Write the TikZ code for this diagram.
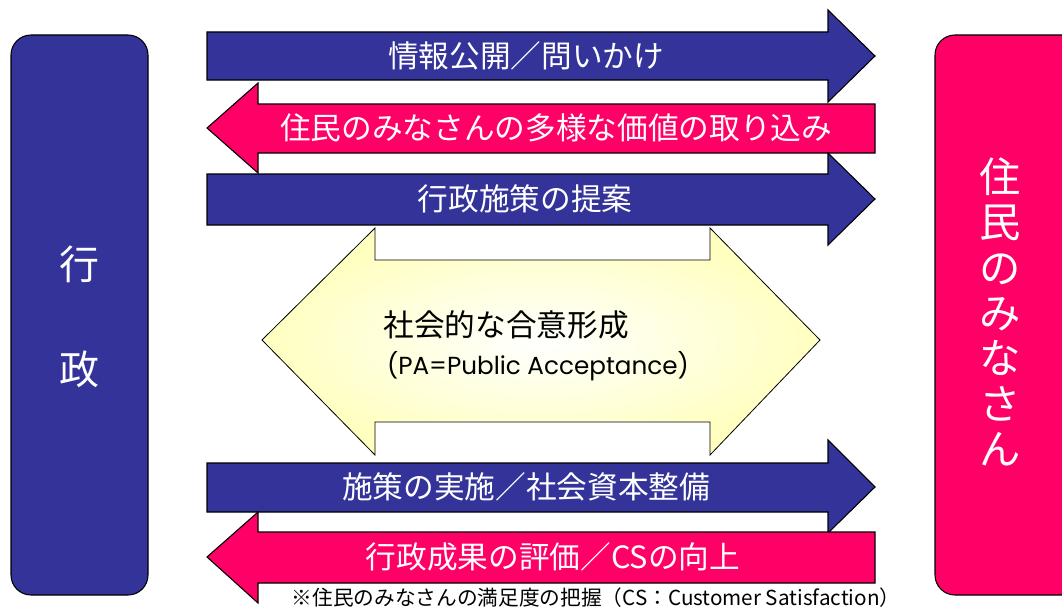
\documentclass[tikz,border=0pt]{standalone}
\usepackage{fontspec}
\setmainfont{Noto Sans CJK JP}
\newfontfamily\geofont{Poppins}
\definecolor{gblue}{HTML}{333399}
\definecolor{gpink}{HTML}{FF0066}
\definecolor{cream}{HTML}{FFFFC0}
\begin{document}
\begin{tikzpicture}[x=0.75pt,y=-0.75pt,
  blk/.style={draw=black, line width=0.8pt, line join=miter},
  bluearr/.style={blk, fill=gblue},
  pinkarr/.style={blk, fill=gpink},
  arrtext/.style={text=white, inner sep=0pt, font=\fontsize{23pt}{26pt}\selectfont},
  sidetext/.style={text=white, inner sep=0pt, align=center}]
\useasboundingbox (0,0) rectangle (1062,610);
\clip (0,0) rectangle (1062,610);
% side boxes
\draw[blk, fill=gblue, rounded corners=15pt] (11,35) rectangle (148,595);
\draw[blk, fill=gpink, rounded corners=15pt] (935,35) rectangle (1090,595);
\node[sidetext, font=\fontsize{30pt}{79pt}\selectfont] (gyosei) at (79,317) {行\\政};
\node[sidetext, font=\fontsize{31pt}{34pt}\selectfont] (jumin) at (1000,312) {住\\民\\の\\み\\な\\さ\\ん};
% central double arrow
\shade[inner color=white, outer color=cream] (262,340) -- (375,228) -- (375,260) -- (710,260) -- (710,228) -- (820,340) -- (710,455) -- (710,422) -- (375,422) -- (375,455) -- cycle;
\draw[blk, line width=0.6pt] (262,340) -- (375,228) -- (375,260) -- (710,260) -- (710,228) -- (820,340) -- (710,455) -- (710,422) -- (375,422) -- (375,455) -- cycle;
\node[inner sep=0pt, font=\fontsize{23pt}{26pt}\selectfont] (pa1) at (506,325) {社会的な合意形成};
\node[inner sep=0pt, font=\geofont\fontsize{18.5pt}{20pt}\selectfont] (pa2) at (538,366) {(PA=Public Acceptance)};
% arrows
\draw[bluearr] (207,32) -- (828,32) -- (828,10) -- (875,56) -- (828,102) -- (828,80) -- (207,80) -- cycle;
\draw[pinkarr] (875,104) -- (258,104) -- (258,83) -- (207,128) -- (258,173) -- (258,153) -- (875,153) -- cycle;
\draw[bluearr] (207,174) -- (828,174) -- (828,153) -- (875,199) -- (828,245) -- (828,225) -- (207,225) -- cycle;
\draw[bluearr] (207,463) -- (828,463) -- (828,440) -- (875,487) -- (828,533) -- (828,512) -- (207,512) -- cycle;
\draw[pinkarr] (875,532) -- (258,532) -- (258,512) -- (207,557) -- (258,603) -- (258,583) -- (875,583) -- cycle;
\node[arrtext] (a1) at (526,56) {情報公開／問いかけ};
\node[arrtext] (a2) at (556,128) {住民のみなさんの多様な価値の取り込み};
\node[arrtext] (a3) at (525,199) {行政施策の提案};
\node[arrtext] (a4) at (526,487) {施策の実施／社会資本整備};
\node[arrtext] (a5) at (553,557) {行政成果の評価／CSの向上};
\node[inner sep=0pt, font=\fontsize{15.5pt}{17pt}\selectfont] (note) at (596,598) {※住民のみなさんの満足度の把握（CS：Customer Satisfaction）};
\end{tikzpicture}
\end{document}
